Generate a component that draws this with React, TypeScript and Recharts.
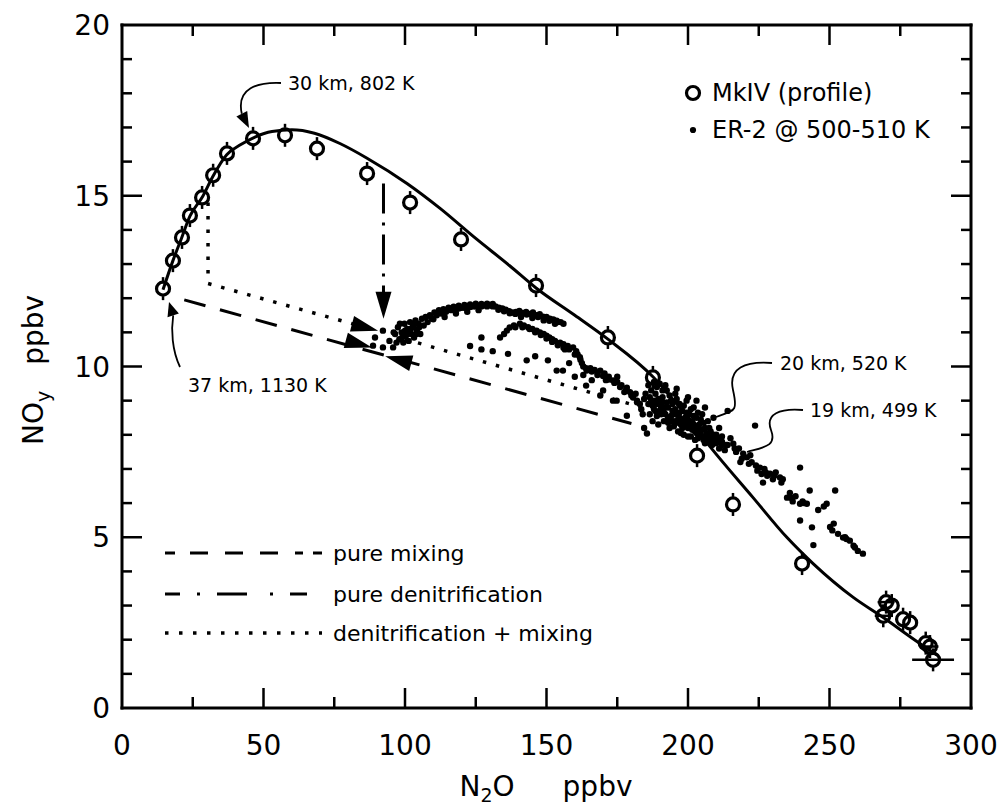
import React from "react";
import { ComposedChart, Scatter, Line, XAxis, YAxis, ErrorBar } from "recharts";

const FONT = "'DejaVu Sans', 'Liberation Sans', sans-serif";

// axis ticks (N2O on x, NOy on y)
const X_TICKS = [0, 25, 50, 75, 100, 125, 150, 175, 200, 225, 250, 275, 300];
const X_LABELED = [0, 50, 100, 150, 200, 250, 300];
const Y_TICKS = [0, 1, 2, 3, 4, 5, 6, 7, 8, 9, 10, 11, 12, 13, 14, 15, 16, 17, 18, 19, 20];
const Y_LABELED = [0, 5, 10, 15, 20];
const FRAME_CORNERS: [number, number][] = [[0, 0], [300, 20]];

// MkIV balloon profile: [N2O, NOy, horizontal error]
const mkivPoints: [number, number, number][] = [
  [14.5, 12.28, 0], [18, 13.1, 0], [21.2, 13.78, 0], [24, 14.42, 0], [28.3, 14.95, 0],
  [32.2, 15.6, 0], [37.1, 16.24, 0], [46.3, 16.68, 0], [57.6, 16.77, 0], [68.9, 16.38, 0],
  [86.6, 15.65, 0], [101.8, 14.8, 0], [119.8, 13.72, 0], [146.3, 12.37, 0], [171.7, 10.85, 0],
  [187.6, 9.68, 0], [203.2, 7.39, 0], [215.9, 5.96, 0], [240.3, 4.23, 0],
  [269, 2.7, 3], [270, 3.1, 3], [272, 3.0, 0], [276, 2.6, 0], [278.5, 2.5, 0],
  [284, 1.9, 0], [285.5, 1.8, 3], [286.6, 1.41, 7.4],
];

// fitted curve through the profile
const fitCurve: [number, number][] = [
  [14.5, 12.25], [18, 13.1], [21, 13.75], [24, 14.4], [28.5, 14.98], [32, 15.55], [37, 16.2],
  [42, 16.5], [47, 16.72], [53, 16.88], [60, 16.93], [68, 16.83], [77, 16.53], [86.6, 16.1],
  [100.7, 15.36], [112.4, 14.63], [125, 13.75], [137, 12.95], [146.3, 12.3], [160, 11.5],
  [171.7, 10.8], [187.6, 9.7], [198, 8.7], [208, 7.63], [223, 6.16], [235, 4.99],
  [244.2, 4.23], [258.4, 3.24], [269, 2.65], [280, 2.0], [288, 1.55],
];

// ER-2 in situ data @ 500-510 K
const er2Points: [number, number][] = [
  // near the arrow heads
  [88.7, 10.61], [89.4, 10.85], [92.2, 11.05], [92.2, 10.56], [95.8, 10.56], [94.5, 10.75],
  [96.5, 10.95], [97.5, 11.15], [98, 10.8], [98.8, 11.0], [99.4, 10.7], [99.8, 11.25],
  [100.3, 10.9], [100.8, 11.1], [101.3, 10.75], [101.8, 11.3], [102.2, 10.95], [102.7, 11.15],
  [103.2, 10.85], [103.7, 11.35], [104.2, 11.05], [104.8, 11.25], [105.4, 10.95], [106, 11.4],
  [106.6, 11.2], [107.3, 11.45], [108, 11.3],
  [97, 10.7], [99, 10.85], [100, 11.05], [101, 10.95], [102, 11.1], [103, 11.2], [104, 10.95],
  [105, 11.15], [96, 11.0], [98.2, 11.25],
  // upper arc
  [108.8, 11.5], [109.6, 11.4], [110.4, 11.58], [111.2, 11.5], [112, 11.65], [112.8, 11.55],
  [113.6, 11.68], [114.5, 11.6], [115.4, 11.72], [116.3, 11.65], [117.2, 11.75], [118.1, 11.68],
  [119, 11.78], [120, 11.72], [121, 11.8], [122, 11.74], [123, 11.82], [124, 11.76],
  [125, 11.84], [126, 11.78], [127, 11.83], [128, 11.79], [129, 11.84], [130, 11.8],
  [131, 11.83], [132, 11.76], [133.2, 11.72], [134.4, 11.7], [135.6, 11.66], [136.8, 11.62],
  [138, 11.58], [139.2, 11.6], [140.4, 11.63], [141.6, 11.57], [142.8, 11.6], [144, 11.54],
  [145.2, 11.58], [146.4, 11.5], [147.6, 11.53], [148.8, 11.46], [150, 11.45], [151.2, 11.4],
  [152.4, 11.38], [153.6, 11.34], [155, 11.3],
  [110, 11.38], [114, 11.45], [118, 11.55], [122, 11.6], [126, 11.65], [141, 11.45],
  [145, 11.42], [149, 11.35], [153, 11.25],
  [109, 11.47], [111, 11.57], [113, 11.62], [115, 11.66], [117, 11.68], [119, 11.7],
  [121, 11.72], [123, 11.74], [125, 11.76], [127, 11.76], [129, 11.76], [131, 11.76],
  [133, 11.66], [135, 11.62], [137, 11.56], [139, 11.54], [141, 11.55], [143, 11.52],
  [145, 11.5], [147, 11.45], [149, 11.42], [151, 11.34], [154, 11.3], [156, 11.25],
  // descending band
  [133.6, 10.85], [135, 10.95], [136, 11.05], [137, 11.14], [138.5, 11.2], [140.6, 11.25],
  [142, 11.2], [143.5, 11.15], [145, 11.1], [146.5, 11.05], [147.7, 11.0], [149, 10.95],
  [150, 10.9], [151, 10.85], [152, 10.8], [153, 10.75], [154.8, 10.7], [156, 10.65],
  [157.5, 10.6], [159.4, 10.56], [160.5, 10.45], [161.8, 10.27], [162.5, 10.1], [163, 10.0],
  [164.2, 9.88], [165.5, 9.95], [167, 9.9], [169, 9.88], [170.5, 9.8], [172, 9.7],
  [173.5, 9.59], [175, 9.55], [176.5, 9.45], [178.4, 9.38], [179.5, 9.25], [180.6, 9.09],
  [182, 9.0], [183, 8.9],
  [156.5, 10.5], [160, 10.35], [163, 9.75], [168, 9.75], [171, 9.6], [175, 9.7],
  [177.5, 9.25], [181.5, 9.2], [183.5, 8.75], [184.5, 9.05],
  [139, 11.15], [141.5, 11.15], [144, 11.1], [146, 11.0], [148, 10.92], [150, 10.82],
  [152, 10.72], [154, 10.62], [156, 10.55], [158, 10.5], [161, 10.35], [162, 10.2],
  [164, 9.95], [166, 9.85], [168, 9.82], [170, 9.72], [172, 9.62], [174, 9.52], [176, 9.4],
  [178, 9.3], [180, 9.15], [182, 8.95],
  // scattered below the band
  [123, 10.6], [127, 10.85], [127, 10.5], [136.4, 10.37], [143, 10.18], [150.5, 10.18],
  [153.6, 9.88], [155.8, 9.88], [164, 9.44], [169, 9.15], [174.8, 9.0], [178.4, 8.56],
  [185.5, 8.04], [170, 9.3], [173.5, 9.0], [131, 10.45], [146, 10.3], [160, 9.7],
  [158, 10.1], [166, 9.6],
  // dense cluster near 19-20 km
  [185, 9.2], [186, 8.9], [186.5, 8.6], [187, 9.3], [187.5, 8.4], [188, 9.0], [188.5, 8.7],
  [189, 9.4], [189.5, 8.3], [190, 8.9], [190.5, 8.6], [191, 9.1], [191.5, 8.4], [192, 8.8],
  [192.5, 9.3], [193, 8.5], [193.5, 8.2], [194, 9.0], [194.5, 8.7], [195, 8.4], [195.5, 9.2],
  [196, 8.6], [196.5, 8.1], [197, 8.9], [197.5, 8.3], [198, 8.7], [198.5, 8.0], [199, 8.5],
  [199.5, 9.0], [200, 8.2], [200.5, 8.6], [201, 7.95], [201.5, 8.4], [202, 8.8], [202.5, 8.1],
  [203, 8.5], [203.5, 7.9], [204, 8.3], [204.5, 8.0], [205, 8.6], [205.5, 7.85], [206, 8.2],
  [206.5, 7.95], [207, 8.4], [207.5, 7.8], [208, 8.1], [208.5, 7.7], [209, 8.0], [210, 7.75],
  [210.5, 7.9], [211, 7.6], [212, 7.8], [213, 7.55],
  [186, 9.45], [188, 9.55], [190, 9.5], [184, 8.6], [184.5, 8.2], [192, 9.45], [196, 9.35],
  [200, 9.1], [203, 9.0], [206, 8.8], [209, 8.5], [211, 8.2], [212, 7.95], [214, 7.7],
  [186.5, 9.1], [187.5, 8.85], [188.5, 9.2], [189, 8.55], [189.5, 9.05], [190.5, 8.8],
  [191, 9.3], [191.5, 8.65], [192.5, 8.95], [193, 8.35], [193.5, 9.15], [194, 8.55],
  [194.5, 8.9], [195, 8.25], [195.5, 8.75], [196, 9.05], [196.5, 8.45], [197, 8.65],
  [197.5, 8.05], [198, 8.45], [198.5, 8.85], [199, 8.25], [199.5, 8.65], [200, 7.95],
  [200.5, 8.35], [201, 8.75], [201.5, 8.15], [202, 8.55], [202.5, 7.85], [203, 8.25],
  [203.5, 8.65], [204, 7.95], [204.5, 8.45], [205, 8.15], [205.5, 8.35], [206, 7.75],
  [206.5, 8.05], [207, 8.0], [207.5, 8.2], [208, 7.9], [209, 7.85], [210, 8.0], [211, 7.8],
  [212, 7.7],
  [187, 9.0], [188, 8.75], [189, 8.9], [190, 8.7], [191, 8.95], [192, 8.6], [193, 8.8],
  [194, 8.4], [195, 8.6], [196, 8.35], [197, 8.5], [198, 8.2], [199, 8.4], [200, 8.45],
  [201, 8.25], [202, 8.3], [203, 8.05], [204, 8.15], [205, 7.95], [207, 7.9],
  // tail toward high N2O
  [214, 8.7], [216, 7.74], [217, 7.5], [218, 7.6], [219, 7.3], [220.8, 7.34], [221.5, 7.15],
  [222, 7.4], [223.7, 8.27], [224, 7.1], [225.4, 7.04], [226, 6.85], [227, 7.0], [228, 6.8],
  [229, 6.86], [230, 6.7], [231, 6.9], [232.5, 6.75], [233, 6.6], [235, 6.16], [236, 6.3],
  [237, 6.05], [238, 6.2], [239.6, 5.98], [239.6, 7.04], [239.6, 5.49], [241, 6.0],
  [242, 5.98], [243, 6.37], [243.8, 5.29], [244.3, 4.77], [246, 5.8], [249, 5.98],
  [250.2, 5.3], [251, 5.2], [252, 6.37], [253, 5.1], [254.8, 4.99], [256, 4.95], [257.2, 4.9],
  [258.5, 4.75], [260, 4.6], [261.8, 4.52], [215, 7.9], [213.5, 7.7], [218.5, 7.2], [226.5, 6.6],
  [216.5, 7.6], [219.5, 7.45], [222.5, 7.2], [224.5, 6.95], [227.5, 6.9], [230.5, 6.8],
  [233.5, 6.7], [236.5, 6.15], [240.5, 6.05], [248, 5.9], [251.5, 5.4], [255.5, 5.0], [259, 4.7],
];

// model trajectories
const pureMixing: [number, number][] = [[22, 11.95], [180, 8.33]];
const pureDenitrification: [number, number][] = [[92.4, 15.36], [92.4, 12.0]];
const denitMixLeft: [number, number][] = [[30.4, 14.8], [30.4, 12.43], [88, 11.1]];
const denitMixRight: [number, number][] = [[100, 10.8], [186, 8.75]];

// arrow tips
const arrowsRight: [number, number][] = [[88.3, 10.56], [90.5, 11.05]];
const arrowsLeft: [number, number][] = [[93, 10.3]];
const arrowsDown: [number, number][] = [[92.4, 11.4]];

const xy = (a: [number, number][]) => a.map(([x, y]) => ({ x, y }));

const FRAME = { stroke: "#000", strokeWidth: 3, strokeLinecap: "square" as const };
const TM = 10;

const BottomTick = (p: any) => {
  const v = p.payload.value;
  const ay = p.y - TM;
  const major = X_LABELED.includes(v);
  return (
    <g>
      {v > 0 && v < 300 && (
        <line x1={p.x} x2={p.x} y1={ay} y2={ay - (major ? 20 : 11)} stroke="#000" strokeWidth={2.5} />
      )}
      {major && (
        <text x={p.x} y={ay + 47} textAnchor="middle" fontFamily={FONT} fontSize={28} fill="#000">
          {v}
        </text>
      )}
    </g>
  );
};

const TopTick = (p: any) => {
  const v = p.payload.value;
  const ay = p.y + TM;
  const major = X_LABELED.includes(v);
  if (v <= 0 || v >= 300) return <g />;
  return <line x1={p.x} x2={p.x} y1={ay} y2={ay + (major ? 20 : 11)} stroke="#000" strokeWidth={2.5} />;
};

const LeftTick = (p: any) => {
  const v = p.payload.value;
  const ax = p.x + TM;
  const major = Y_LABELED.includes(v);
  return (
    <g>
      {v > 0 && v < 20 && (
        <line x1={ax} x2={ax + (major ? 20 : 10)} y1={p.y} y2={p.y} stroke="#000" strokeWidth={2.5} />
      )}
      {major && (
        <text x={ax - 12} y={p.y + 10} textAnchor="end" fontFamily={FONT} fontSize={28} fill="#000">
          {v}
        </text>
      )}
    </g>
  );
};

const RightTick = (p: any) => {
  const v = p.payload.value;
  const ax = p.x - TM;
  const major = Y_LABELED.includes(v);
  if (v <= 0 || v >= 20) return <g />;
  return <line x1={ax} x2={ax - (major ? 20 : 10)} y1={p.y} y2={p.y} stroke="#000" strokeWidth={2.5} />;
};

const OpenCircle = (p: any) => (
  <g>
    <circle cx={p.cx} cy={p.cy} r={6.5} fill="none" stroke="#000" strokeWidth={3.2} />
    <line x1={p.cx} x2={p.cx} y1={p.cy - 7.5} y2={p.cy - 11.5} stroke="#000" strokeWidth={2.5} />
    <line x1={p.cx} x2={p.cx} y1={p.cy + 7.5} y2={p.cy + 11.5} stroke="#000" strokeWidth={2.5} />
  </g>
);

const Dot = (p: any) => <circle cx={p.cx} cy={p.cy} r={3.2} fill="#000" />;
const Nothing = () => <g />;

const arrowShape = (angle: number) => (p: any) => (
  <polygon
    points="0,0 -27,-8 -27,8"
    transform={`translate(${p.cx},${p.cy}) rotate(${angle})`}
    fill="#000"
  />
);

export default function App() {
  return (
    <div style={{ position: "absolute", left: 0, top: 0, width: 1005, height: 808, background: "#fff" }}>
      <ComposedChart width={1005} height={808} margin={{ top: 24, right: 33, bottom: 0, left: 0 }}>
        <XAxis
          type="number"
          dataKey="x"
          domain={[0, 300]}
          allowDataOverflow
          ticks={X_TICKS}
          interval={0}
          height={100}
          tickSize={0}
          tickMargin={TM}
          tickLine={false}
          axisLine={FRAME}
          tick={BottomTick}
        />
        <XAxis
          xAxisId="top"
          orientation="top"
          type="number"
          dataKey="x"
          domain={[0, 300]}
          allowDataOverflow
          ticks={X_TICKS}
          interval={0}
          height={1}
          tickSize={0}
          tickMargin={TM}
          tickLine={false}
          axisLine={FRAME}
          tick={TopTick}
        />
        <YAxis
          type="number"
          dataKey="y"
          domain={[0, 20]}
          allowDataOverflow
          ticks={Y_TICKS}
          interval={0}
          width={122}
          tickSize={0}
          tickMargin={TM}
          tickLine={false}
          axisLine={FRAME}
          tick={LeftTick}
        />
        <YAxis
          yAxisId="right"
          orientation="right"
          type="number"
          dataKey="y"
          domain={[0, 20]}
          allowDataOverflow
          ticks={Y_TICKS}
          interval={0}
          width={1}
          tickSize={0}
          tickMargin={TM}
          tickLine={false}
          axisLine={FRAME}
          tick={RightTick}
        />

        {/* invisible series that keeps the top and right frame axes alive */}
        <Scatter xAxisId="top" yAxisId="right" data={xy(FRAME_CORNERS)} dataKey="y" shape={Nothing} isAnimationActive={false} />

        <Scatter name="ER-2" data={xy(er2Points)} dataKey="y" shape={Dot} isAnimationActive={false} />

        <Line data={xy(pureMixing)} dataKey="y" type="linear" stroke="#000" strokeWidth={3}
          strokeDasharray="22 15" dot={false} activeDot={false} isAnimationActive={false} />
        <Line data={xy(pureDenitrification)} dataKey="y" type="linear" stroke="#000" strokeWidth={3}
          strokeDasharray="30 9 3 9" dot={false} activeDot={false} isAnimationActive={false} />
        <Line data={xy(denitMixLeft)} dataKey="y" type="linear" stroke="#000" strokeWidth={3.5}
          strokeDasharray="3.5 10" dot={false} activeDot={false} isAnimationActive={false} />
        <Line data={xy(denitMixRight)} dataKey="y" type="linear" stroke="#000" strokeWidth={3.5}
          strokeDasharray="3.5 10" dot={false} activeDot={false} isAnimationActive={false} />
        <Line data={xy(fitCurve)} dataKey="y" type="monotone" stroke="#000" strokeWidth={3}
          dot={false} activeDot={false} isAnimationActive={false} />

        <Scatter
          name="MkIV"
          data={mkivPoints.map(([x, y, ex]) => ({ x, y, ex }))}
          dataKey="y"
          shape={OpenCircle}
          isAnimationActive={false}
        >
          <ErrorBar dataKey="ex" direction="x" width={0} stroke="#000" strokeWidth={2.5} />
        </Scatter>

        <Scatter data={xy(arrowsRight)} dataKey="y" shape={arrowShape(15)} isAnimationActive={false} />
        <Scatter data={xy(arrowsLeft)} dataKey="y" shape={arrowShape(195)} isAnimationActive={false} />
        <Scatter data={xy(arrowsDown)} dataKey="y" shape={arrowShape(90)} isAnimationActive={false} />
      </ComposedChart>

      <svg
        width={1005}
        height={808}
        style={{ position: "absolute", left: 0, top: 0, pointerEvents: "none" }}
        fontFamily={FONT}
      >
        {/* axis titles */}
        <text transform="translate(43,370) rotate(-90)" textAnchor="middle" fontSize={28}>
          NO<tspan fontSize={19} dy={7}>y</tspan>
          <tspan dy={-7} dx={26}>ppbv</tspan>
        </text>
        <text x={546} y={796} textAnchor="middle" fontSize={28}>
          N<tspan fontSize={19} dy={6}>2</tspan>
          <tspan dy={-6}>O</tspan>
          <tspan dx={48}>ppbv</tspan>
        </text>

        {/* series legend */}
        <circle cx={693} cy={93} r={6.5} fill="none" stroke="#000" strokeWidth={3.2} />
        <text x={712} y={101} fontSize={24}>MkIV (profile)</text>
        <circle cx={693} cy={130} r={3.1} fill="#000" />
        <text x={712} y={138} fontSize={24}>ER-2 @ 500-510 K</text>

        {/* trajectory legend */}
        <line x1={165} x2={322} y1={553} y2={553} stroke="#000" strokeWidth={3} strokeDasharray="10 15 18 17 18 17 18 17 8" />
        <text x={333} y={561} fontSize={22}>pure mixing</text>
        <line x1={165} x2={322} y1={594} y2={594} stroke="#000" strokeWidth={3} strokeDasharray="15 17 3 17 30 23 3 17 17" />
        <text x={333} y={602} fontSize={22}>pure denitrification</text>
        <line x1={165} x2={322} y1={633} y2={633} stroke="#000" strokeWidth={3.5} strokeDasharray="3.5 10.5" />
        <text x={333} y={641} fontSize={22}>denitrification + mixing</text>

        {/* altitude annotations */}
        <text x={288} y={90} fontSize={19}>30 km, 802 K</text>
        <path d="M 281 83 C 258 82, 236 88, 241.8 113.7" fill="none" stroke="#000" strokeWidth={1.8} />
        <polygon points="249,128 236.4,116.4 247.2,111" fill="#000" />

        <text x={188} y={392} fontSize={19}>37 km, 1130 K</text>
        <path d="M 180 367 C 172 350, 171 330, 173.2 315.4" fill="none" stroke="#000" strokeWidth={1.8} />
        <polygon points="169,302 178.9,313.6 167.5,317.2" fill="#000" />

        <text x={780} y={370} fontSize={19}>20 km, 520 K</text>
        <path d="M 772 363 C 745 361, 728 368, 733 390 S 735 410, 716 417" fill="none" stroke="#000" strokeWidth={1.8} />

        <text x={810} y={417} fontSize={19}>19 km, 499 K</text>
        <path d="M 803 410 C 780 408, 765 414, 771 430 S 765 447, 747 452" fill="none" stroke="#000" strokeWidth={1.8} />
      </svg>
    </div>
  );
}
